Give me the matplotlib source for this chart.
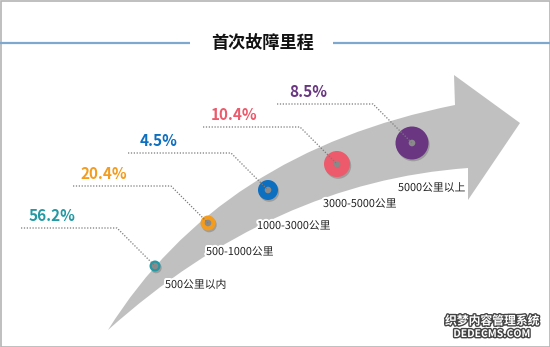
import matplotlib
matplotlib.use("Agg")
import matplotlib.pyplot as plt
from matplotlib.path import Path
from matplotlib.patches import PathPatch, Circle, Rectangle
import matplotlib.patheffects as pe

plt.rcParams["font.family"] = ["Noto Sans CJK SC", "DejaVu Sans"]

# data
title = "首次故障里程"
categories = ["500公里以内", "500-1000公里", "1000-3000公里", "3000-5000公里", "5000公里以上"]
shares = [56.2, 20.4, 4.5, 10.4, 8.5]
colors = ["#2399a4", "#f39c1e", "#0c6fc0", "#ec5a6b", "#6a3682"]

# layout (pixel coordinates, y downward)
W, H = 550, 347
dots = [(155, 266), (208, 223), (268, 190), (337, 164), (412, 143)]
radii = [5.5, 7.5, 10, 13, 16.5]
leader_y = [228, 186, 153, 127, 104]
leader_x0 = [21, 73, 128, 203, 277]
label_off = [(10, 19), (-2, 29), (-11, 36), (-14, 40), (-14, 45)]

fig = plt.figure(figsize=(W / 100, H / 100), dpi=100)
ax = fig.add_axes([0, 0, 1, 1])
ax.set_xlim(0, W)
ax.set_ylim(H, 0)
ax.axis("off")

# frame
ax.add_patch(Rectangle((0.5, 0.5), W - 1, H - 1, fill=False, ec="#b4b4b4", lw=1.2))

# title with side rules
ax.text(262, 43, title, ha="center", va="center", fontsize=12.3, fontweight="bold", color="#111111")
ax.plot([0, 190], [43, 43], color="#7ea8cf", lw=1.6, solid_capstyle="butt")
ax.plot([333, W], [43, 43], color="#7ea8cf", lw=1.6, solid_capstyle="butt")

# curved arrow
verts = [(108, 330), (219, 152), (455, 105),
         (454, 75), (520, 123), (468, 200), (468, 168),
         (273, 182), (108, 330), (108, 330)]
codes = [Path.MOVETO, Path.CURVE3, Path.CURVE3,
         Path.LINETO, Path.LINETO, Path.LINETO, Path.LINETO,
         Path.CURVE3, Path.CURVE3, Path.CLOSEPOLY]
ax.add_patch(PathPatch(Path(verts, codes), fc="#c0c0c0", ec="none", zorder=1))

for i, (cat, val, col) in enumerate(zip(categories, shares, colors)):
    cx, cy = dots[i]
    r = radii[i]
    # soft shadow then donut
    ax.add_patch(Circle((cx + 1.2, cy + 1.8), r, fc="#000000", alpha=0.18, ec="none", zorder=2))
    ax.add_patch(Circle((cx, cy), r, fc=col, ec="none", zorder=3))
    ax.add_patch(Circle((cx, cy), 3.3, fc="#8a8a8a", ec="none", zorder=4))

    # dotted leader: flat run, then 45 degrees down to the dot
    ly = leader_y[i]
    x0 = leader_x0[i]
    x1 = cx - (cy - ly)
    ax.plot([x0, x1, cx], [ly, ly, cy], color="#7a7a7a", lw=0.9,
            ls=(0, (1, 1.3)), zorder=5)

    ax.text(x0 + 31, ly - 12, f"{val}%", ha="center", va="center",
            fontsize=11, fontweight="bold", color=col)

    dx, dy = label_off[i]
    ax.text(cx + dx, cy + dy, cat, ha="left", va="center", fontsize=7.8,
            color="#222222",
            path_effects=[pe.withStroke(linewidth=3, foreground="white")])

# site mark
ax.text(492, 321, "织梦内容管理系统", ha="center", va="center", fontsize=8.5,
        fontweight="bold", color="white",
        path_effects=[pe.withStroke(linewidth=2, foreground="#444444")])
ax.text(492, 334, "DEDECMS.COM", ha="center", va="center", fontsize=7.5,
        fontweight="bold", color="white",
        path_effects=[pe.withStroke(linewidth=2, foreground="#444444")])

fig.savefig("out.png", dpi=100)
